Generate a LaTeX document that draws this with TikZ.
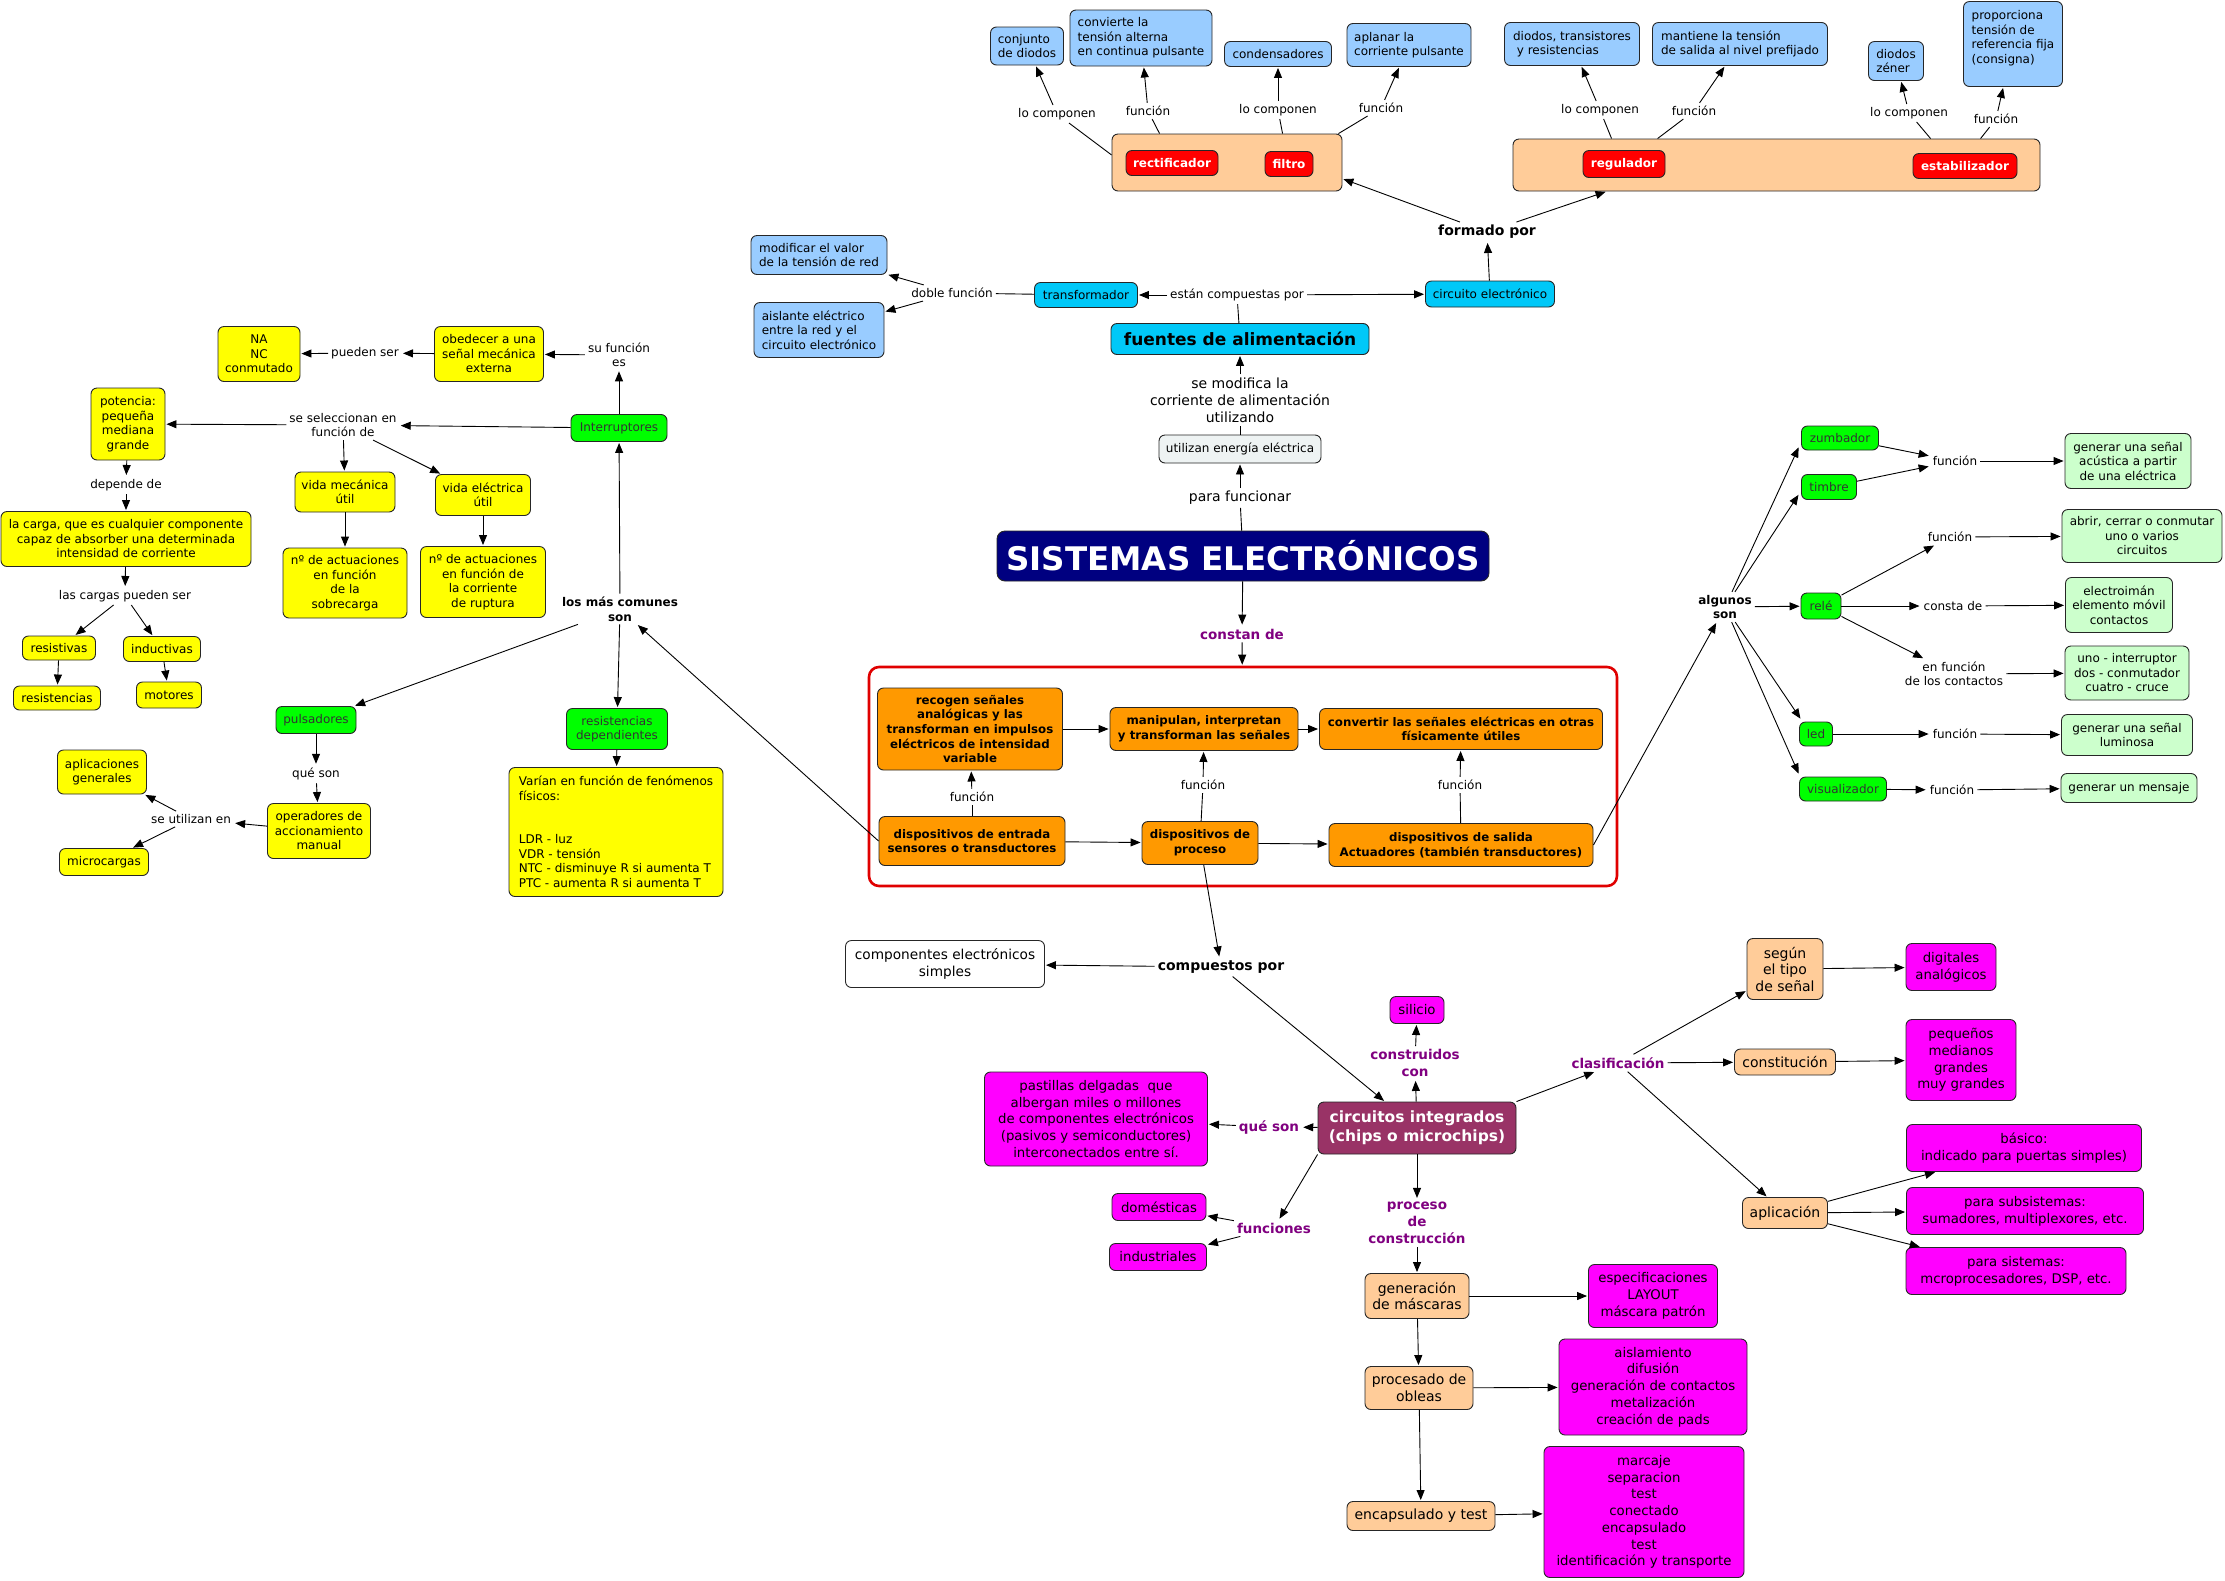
\documentclass[tikz,border=0pt]{standalone}
\usepackage{fontspec}
\setmainfont{DejaVu Sans}
\usetikzlibrary{arrows.meta,calc}
\definecolor{lblue}{HTML}{99CCFF}
\definecolor{cyanb}{HTML}{00C8F8}
\definecolor{peach}{HTML}{FFCC99}
\definecolor{redn}{HTML}{FF0000}
\definecolor{orng}{HTML}{FF9900}
\definecolor{yell}{HTML}{FFFF00}
\definecolor{grn}{HTML}{00FF00}
\definecolor{lgrn}{HTML}{CCFFCC}
\definecolor{magn}{HTML}{FF00FF}
\definecolor{navyb}{HTML}{000080}
\definecolor{maroonb}{HTML}{993366}
\definecolor{purp}{HTML}{800080}
\definecolor{grayb}{HTML}{EEF3F3}
\definecolor{redframe}{HTML}{E00000}
\tikzset{
 cbox/.style={draw=black!85, rounded corners=6pt, line width=0.9pt, align=center, inner sep=2pt, font=\fontsize{12}{14.5}\selectfont},
 bluebox/.style={cbox, fill=lblue},
 cyanbox/.style={cbox, fill=cyanb},
 peachbox/.style={cbox, fill=peach, font=\fontsize{14}{16.5}\selectfont},
 rbox/.style={cbox, fill=redn, text=white, font=\fontsize{12}{14}\selectfont\bfseries},
 orbox/.style={cbox, fill=orng, font=\fontsize{11.8}{14.6}\selectfont\bfseries},
 yelbox/.style={cbox, fill=yell},
 grnbox/.style={cbox, fill=grn, text=black!80},
 lgbox/.style={cbox, fill=lgrn},
 magbox/.style={cbox, fill=magn, font=\fontsize{13.3}{16.7}\selectfont},
 lbl/.style={align=center, inner sep=3pt, font=\fontsize{12}{14.5}\selectfont},
 lblbig/.style={align=center, inner sep=3pt, font=\fontsize{14}{17}\selectfont},
 blbl/.style={align=center, inner sep=3pt, font=\fontsize{14}{16}\selectfont\bfseries},
 sblbl/.style={align=center, inner sep=3pt, font=\fontsize{12}{14.6}\selectfont\bfseries},
 plbl/.style={align=center, inner sep=3pt, text=purp, font=\fontsize{13.5}{17}\selectfont\bfseries},
 arr/.style={-{Triangle[length=10pt,width=8pt]}, line width=0.9pt, shorten >=1pt},
 ln/.style={line width=0.9pt}
}
\begin{document}
\begin{tikzpicture}[x=1pt,y=-1pt]
\fill[white] (0,0) rectangle (2225,1580);
\useasboundingbox (0,0) rectangle (2225,1580);

% ===== top: power supply parts =====
\node[cbox, fill=peach, minimum width=230, minimum height=57] (grpA) at (1227,162.5) {};
\node[rbox, minimum width=92, minimum height=25] (rect) at (1172,163) {rectificador};
\node[rbox, minimum width=48, minimum height=25] (filt) at (1289,164) {filtro};
\node[bluebox, minimum width=73, minimum height=38, align=left] (cdiod) at (1027,46) {conjunto\\de diodos};
\node[bluebox, minimum width=142, minimum height=56, align=left] (conv) at (1141,38) {convierte la\\tensión alterna\\en continua pulsante};
\node[bluebox, minimum width=107, minimum height=25] (cond) at (1278,54) {condensadores};
\node[bluebox, minimum width=124, minimum height=43, align=left] (apla) at (1409,45) {aplanar la\\corriente pulsante};
\node[lbl] (lc1) at (1057,114) {lo componen};
\node[lbl] (fn1) at (1148,111) {función};
\node[lbl] (lc2) at (1278,110) {lo componen};
\node[lbl] (fn2) at (1381,108) {función};

\node[cbox, fill=peach, minimum width=527, minimum height=52] (grpB) at (1776.5,165) {};
\node[rbox, minimum width=82, minimum height=27] (reg) at (1624,164) {regulador};
\node[rbox, minimum width=104, minimum height=25] (estab) at (1965,166) {estabilizador};
\node[bluebox, minimum width=135, minimum height=43, align=left] (dtr) at (1572,44) {diodos, transistores\\\ y resistencias};
\node[bluebox, minimum width=175, minimum height=43, align=left] (mant) at (1740,44) {mantiene la tensión\\de salida al nivel prefijado};
\node[bluebox, minimum width=55, minimum height=39, align=left] (dzen) at (1896,61) {diodos\\zéner};
\node[bluebox, minimum width=99, minimum height=85, align=left] (prop) at (2013,44) {proporciona\\tensión de\\referencia fija\\(consigna)\\\mbox{}};
\node[lbl] (lc3) at (1600,110) {lo componen};
\node[lbl] (fn3) at (1694,111) {función};
\node[lbl] (lc4) at (1909,113) {lo componen};
\node[lbl] (fn4) at (1996,119) {función};

\node[blbl] (formado) at (1487,232) {formado por};
\node[cyanbox, minimum width=129, minimum height=26] (circ) at (1490,294) {circuito electrónico};
\node[cyanbox, minimum width=103, minimum height=25] (transf) at (1086,295) {transformador};
\node[lbl] (compu) at (1237,295) {están compuestas por};
\node[cbox, fill=cyanb, minimum width=258, minimum height=31, font=\fontsize{17}{20}\selectfont\bfseries] (fuentes) at (1240,339) {fuentes de alimentación};
\node[lbl] (doble) at (952,293) {doble función};
\node[bluebox, minimum width=136, minimum height=39, align=left] (modif) at (819,255) {modificar el valor\\de la tensión de red};
\node[bluebox, minimum width=130, minimum height=55, align=left] (aisl) at (819,330) {aislante eléctrico\\entre la red y el\\circuito electrónico};
\node[lblbig] (semod) at (1240,400) {se modifica la\\corriente de alimentación\\utilizando};
\node[cbox, fill=grayb, minimum width=162, minimum height=28] (util) at (1240,449) {utilizan energía eléctrica};
\node[lblbig] (parafun) at (1240,498) {para funcionar};
\node[cbox, fill=navyb, text=white, rounded corners=8pt, minimum width=492, minimum height=50, font=\fontsize{32.5}{36}\selectfont\bfseries] (sist) at (1243,556) {SISTEMAS ELECTRÓNICOS};
\node[plbl] (constan) at (1242,634) {constan de};

% ===== red frame =====
\node[draw=redframe, line width=2.6pt, rounded corners=10pt, minimum width=748, minimum height=219] (frame) at (1243,776.5) {};
\node[orbox, minimum width=185, minimum height=82] (recog) at (970,729) {recogen señales\\analógicas y las\\transforman en impulsos\\eléctricos de intensidad\\variable};
\node[orbox, minimum width=188, minimum height=43] (manip) at (1204,729) {manipulan, interpretan\\y transforman las señales};
\node[orbox, minimum width=283, minimum height=41] (convt) at (1461,729) {convertir las señales eléctricas en otras\\físicamente útiles};
\node[orbox, minimum width=186, minimum height=49] (entr) at (972,841) {dispositivos de entrada\\sensores o transductores};
\node[orbox, minimum width=116, minimum height=43] (proc) at (1200,843) {dispositivos de\\proceso};
\node[orbox, minimum width=264, minimum height=43] (sal) at (1461,845) {dispositivos de salida\\Actuadores (también transductores)};
\node[lbl] (fnA) at (972,797) {función};
\node[lbl] (fnB) at (1203,785) {función};
\node[lbl] (fnC) at (1460,785) {función};

% ===== bottom: integrated circuits =====
\node[blbl] (compuestos) at (1221,967) {compuestos por};
\node[cbox, fill=white, minimum width=199, minimum height=47, font=\fontsize{13.7}{17}\selectfont] (compel) at (945,964) {componentes electrónicos\\simples};
\node[cbox, fill=maroonb, text=white, minimum width=198, minimum height=52, font=\fontsize{15.5}{19}\selectfont\bfseries] (ci) at (1417,1128) {circuitos integrados\\(chips o microchips)};
\node[plbl] (constr) at (1415,1063) {construidos\\con};
\node[magbox, minimum width=54, minimum height=27] (silicio) at (1417,1010) {silicio};
\node[plbl] (queson2) at (1269,1127) {qué son};
\node[magbox, minimum width=223, minimum height=94] (past) at (1096,1119) {pastillas delgadas\ \ que\\albergan miles o millones\\de componentes electrónicos\\(pasivos y semiconductores)\\interconectados entre sí.};
\node[plbl] (funciones) at (1274,1228) {funciones};
\node[magbox, minimum width=94, minimum height=27] (domes) at (1159,1207) {domésticas};
\node[magbox, minimum width=97, minimum height=27] (indus) at (1158,1257) {industriales};
\node[plbl] (procc) at (1417,1223) {proceso\\de\\construcción};
\node[peachbox, minimum width=104, minimum height=45] (genm) at (1417,1296) {generación\\de máscaras};
\node[peachbox, minimum width=108, minimum height=43] (proco) at (1419,1388) {procesado de\\obleas};
\node[peachbox, minimum width=148, minimum height=29] (encap) at (1421,1516) {encapsulado y test};
\node[magbox, minimum width=129, minimum height=63] (espec) at (1653,1296) {especificaciones\\LAYOUT\\máscara patrón};
\node[magbox, minimum width=188, minimum height=96] (aislm) at (1653,1387) {aislamiento\\difusión\\generación de contactos\\metalización\\creación de pads};
\node[magbox, minimum width=200, minimum height=131] (marc) at (1644,1512) {marcaje\\separacion\\test\\conectado\\encapsulado\\test\\identificación y transporte};
\node[plbl] (clasif) at (1618,1063) {clasificación};
\node[peachbox, minimum width=76, minimum height=61] (segun) at (1785,969) {según\\el tipo\\de señal};
\node[magbox, minimum width=90, minimum height=47] (digit) at (1951,967) {digitales\\analógicos};
\node[peachbox, minimum width=101, minimum height=26] (const) at (1785,1062) {constitución};
\node[magbox, minimum width=110, minimum height=81] (peq) at (1961,1060) {pequeños\\medianos\\grandes\\muy grandes};
\node[peachbox, minimum width=85, minimum height=31] (aplic) at (1785,1213) {aplicación};
\node[magbox, minimum width=235, minimum height=47] (basico) at (2024,1148) {básico:\\indicado para puertas simples)};
\node[magbox, minimum width=237, minimum height=47] (subs) at (2025,1211) {para subsistemas:\\sumadores, multiplexores, etc.};
\node[magbox, minimum width=220, minimum height=47] (sists) at (2016,1271) {para sistemas:\\mcroprocesadores, DSP, etc.};

% ===== right: output devices =====
\node[sblbl] (algunos) at (1725,607) {algunos\\son};
\node[grnbox, minimum width=77, minimum height=24] (zumb) at (1840,438) {zumbador};
\node[grnbox, minimum width=55, minimum height=25] (timb) at (1829,487) {timbre};
\node[lbl] (fnz) at (1955,461) {función};
\node[lgbox, minimum width=126, minimum height=55] (acust) at (2128,461) {generar una señal\\acústica a partir\\de una eléctrica};
\node[grnbox, minimum width=40, minimum height=26] (rele) at (1821,606) {relé};
\node[lbl] (fnr) at (1950,537) {función};
\node[lgbox, minimum width=160, minimum height=53] (abrir) at (2142,536) {abrir, cerrar o conmutar\\uno o varios\\circuitos};
\node[lbl] (consta) at (1953,606) {consta de};
\node[lgbox, minimum width=107, minimum height=55] (electro) at (2119,605) {electroimán\\elemento móvil\\contactos};
\node[lbl] (enfun) at (1954,674) {en función\\de los contactos};
\node[lgbox, minimum width=124, minimum height=54] (uno) at (2127,673) {uno - interruptor\\dos - conmutador\\cuatro - cruce};
\node[grnbox, minimum width=33, minimum height=24] (led) at (1816,734) {led};
\node[lbl] (fnl) at (1955,734) {función};
\node[lgbox, minimum width=131, minimum height=41] (lumin) at (2127,735) {generar una señal\\luminosa};
\node[grnbox, minimum width=87, minimum height=24] (visu) at (1843,789) {visualizador};
\node[lbl] (fnv) at (1952,790) {función};
\node[lgbox, minimum width=136, minimum height=29] (mensaje) at (2129,788) {generar un mensaje};

% ===== left: input devices =====
\node[grnbox, minimum width=96, minimum height=27] (interr) at (619,428) {Interruptores};
\node[lbl] (sufun) at (619,355) {su función\\es};
\node[yelbox, minimum width=109, minimum height=55] (obed) at (489,354) {obedecer a una\\señal mecánica\\externa};
\node[lbl] (pueden) at (365,353) {pueden ser};
\node[yelbox, minimum width=82, minimum height=55] (nanc) at (259,354) {NA\\NC\\conmutado};
\node[lbl] (selecc) at (343,425) {se seleccionan en\\función de};
\node[yelbox, minimum width=74, minimum height=72] (poten) at (128,424) {potencia:\\pequeña\\mediana\\grande};
\node[yelbox, minimum width=100, minimum height=40] (vmec) at (345,492) {vida mecánica\\útil};
\node[yelbox, minimum width=95, minimum height=41] (velec) at (483,495) {vida eléctrica\\útil};
\node[yelbox, minimum width=124, minimum height=70] (nsobre) at (345,583) {nº de actuaciones\\en función\\de la\\sobrecarga};
\node[yelbox, minimum width=125, minimum height=71] (nrupt) at (483,582) {nº de actuaciones\\en función de\\la corriente\\de ruptura};
\node[lbl] (depende) at (126,485) {depende de};
\node[yelbox, minimum width=250, minimum height=55] (carga) at (126,539) {la carga, que es cualquier componente\\capaz de absorber una determinada\\intensidad de corriente};
\node[lbl] (cargasp) at (125,596) {las cargas pueden ser};
\node[yelbox, minimum width=73, minimum height=24] (resist) at (59,648) {resistivas};
\node[yelbox, minimum width=77, minimum height=25] (induct) at (162,649) {inductivas};
\node[yelbox, minimum width=87, minimum height=24] (resisten) at (57,698) {resistencias};
\node[yelbox, minimum width=65, minimum height=26] (motores) at (169,695) {motores};
\node[sblbl] (losmas) at (620,609) {los más comunes\\son};
\node[grnbox, minimum width=80, minimum height=27] (puls) at (316,720) {pulsadores};
\node[grnbox, minimum width=101, minimum height=41] (resdep) at (617,729) {resistencias\\dependientes};
\node[yelbox, minimum width=214, minimum height=129, align=left] (varian) at (616,832) {Varían en función de fenómenos\\físicos:\\[29pt]LDR - luz\\VDR - tensión\\NTC - disminuye R si aumenta T\\PTC - aumenta R si aumenta T};
\node[lbl] (queson1) at (316,774) {qué son};
\node[yelbox, minimum width=103, minimum height=55] (operad) at (319,831) {operadores de\\accionamiento\\manual};
\node[lbl] (seutil) at (191,819) {se utilizan en};
\node[yelbox, minimum width=89, minimum height=44] (aplgen) at (102,772) {aplicaciones\\generales};
\node[yelbox, minimum width=89, minimum height=27] (microc) at (104,862) {microcargas};

% ===== connectors: top =====
\draw[ln] ($(grpA.north west)!0.37!(grpA.south west)$) -- (lc1);
\draw[arr] (lc1) -- (cdiod);
\draw[ln] ($(grpA.north west)+(48,0)$) -- (fn1);
\draw[arr] (fn1) -- (conv);
\draw[ln] ($(grpA.north west)+(171,0)$) -- (lc2);
\draw[arr] (lc2) -- (cond);
\draw[ln] ($(grpA.north east)+(-4,0)$) -- (fn2);
\draw[arr] (fn2) -- (apla);
\draw[ln] ($(grpB.north west)+(99,0)$) -- (lc3);
\draw[arr] (lc3) -- (dtr);
\draw[ln] ($(grpB.north west)+(145,0)$) -- (fn3);
\draw[arr] (fn3) -- (mant);
\draw[ln] ($(grpB.north west)+(418,0)$) -- (lc4);
\draw[arr] (lc4) -- (dzen);
\draw[ln] ($(grpB.north west)+(468,0)$) -- (fn4);
\draw[arr] (fn4) -- (prop);
\draw[arr] (formado) -- (grpA.-8);
\draw[arr] (formado) -- ($(grpB.south west)+(94,0)$);
\draw[arr] (circ) -- (formado);
\draw[ln] (fuentes) -- (compu);
\draw[arr] (compu) -- (transf);
\draw[arr] (compu) -- (circ);
\draw[ln] (transf) -- (doble);
\draw[arr] (doble) -- (modif);
\draw[arr] (doble) -- (aisl);
\draw[arr] (semod) -- (fuentes);
\draw[ln] (util) -- (semod);
\draw[arr] (parafun) -- (util);
\draw[ln] (sist) -- (parafun);
\draw[arr] (sist) -- (constan);
\draw[arr] (constan) -- (frame);

% ===== connectors: frame =====
\draw[ln] (entr) -- (fnA);
\draw[arr] (fnA) -- (recog);
\draw[ln] (proc) -- (fnB);
\draw[arr] (fnB) -- (manip);
\draw[ln] (sal) -- (fnC);
\draw[arr] (fnC) -- (convt);
\draw[arr] (recog) -- (manip);
\draw[arr] (manip) -- (convt);
\draw[arr] (entr) -- (proc);
\draw[arr] (proc) -- (sal);
\draw[arr] (entr.west) -- (losmas);
\draw[arr] (sal.east) -- (algunos);

% ===== connectors: bottom =====
\draw[arr] (proc) -- (compuestos);
\draw[arr] (compuestos) -- (compel);
\draw[arr] (compuestos) -- (ci);
\draw[arr] (ci) -- (constr);
\draw[arr] (constr) -- (silicio);
\draw[arr] (ci) -- (queson2);
\draw[arr] (queson2) -- (past);
\draw[arr] (ci.south west) -- (funciones);
\draw[arr] (funciones) -- (domes);
\draw[arr] (funciones) -- (indus);
\draw[arr] (ci) -- (procc);
\draw[arr] (procc) -- (genm);
\draw[arr] (genm) -- (proco);
\draw[arr] (proco) -- (encap);
\draw[arr] (genm) -- (espec);
\draw[arr] (proco) -- (aislm);
\draw[arr] (encap) -- (marc);
\draw[arr] (ci.north east) -- (clasif);
\draw[arr] (clasif) -- (segun);
\draw[arr] (clasif) -- (const);
\draw[arr] (clasif) -- (aplic);
\draw[arr] (segun) -- (digit);
\draw[arr] (const) -- (peq);
\draw[arr] (aplic) -- (basico);
\draw[arr] (aplic) -- (subs);
\draw[arr] (aplic) -- (sists);

% ===== connectors: right =====
\draw[arr] (algunos) -- ($(zumb.south west)+(-2,-4)$);
\draw[arr] (algunos) -- ($(timb.south west)+(-2,-6)$);
\draw[arr] (algunos) -- (rele);
\draw[arr] (algunos) -- ($(led.north west)+(2,-2)$);
\draw[arr] (algunos) -- ($(visu.north west)+(0,-2)$);
\draw[arr] (zumb) -- (fnz);
\draw[arr] (timb) -- (fnz);
\draw[arr] (fnz) -- (acust);
\draw[arr] (rele) -- (fnr);
\draw[arr] (fnr) -- (abrir);
\draw[arr] (rele) -- (consta);
\draw[arr] (consta) -- (electro);
\draw[arr] (rele) -- (enfun);
\draw[arr] (enfun) -- (uno);
\draw[arr] (led) -- (fnl);
\draw[arr] (fnl) -- (lumin);
\draw[arr] (visu) -- (fnv);
\draw[arr] (fnv) -- (mensaje);

% ===== connectors: left =====
\draw[arr] (interr) -- (sufun);
\draw[arr] (sufun) -- (obed);
\draw[arr] (obed) -- (pueden);
\draw[arr] (pueden) -- (nanc);
\draw[arr] (interr) -- (selecc);
\draw[arr] (selecc) -- (poten);
\draw[arr] (selecc) -- (vmec);
\draw[arr] (selecc) -- (velec);
\draw[arr] (vmec) -- (nsobre);
\draw[arr] (velec) -- (nrupt);
\draw[arr] (poten) -- (depende);
\draw[arr] (depende) -- (carga);
\draw[arr] (carga) -- (cargasp);
\draw[arr] (cargasp) -- (resist);
\draw[arr] (cargasp) -- (induct);
\draw[arr] (resist) -- (resisten);
\draw[arr] (induct) -- (motores);
\draw[arr] (losmas) -- (interr);
\draw[arr] (losmas) -- (puls);
\draw[arr] (losmas) -- (resdep);
\draw[arr] (resdep) -- (varian);
\draw[arr] (puls) -- (queson1);
\draw[arr] (queson1) -- (operad);
\draw[arr] (operad) -- (seutil);
\draw[arr] (seutil) -- (aplgen);
\draw[arr] (seutil) -- (microc);
\end{tikzpicture}
\end{document}
